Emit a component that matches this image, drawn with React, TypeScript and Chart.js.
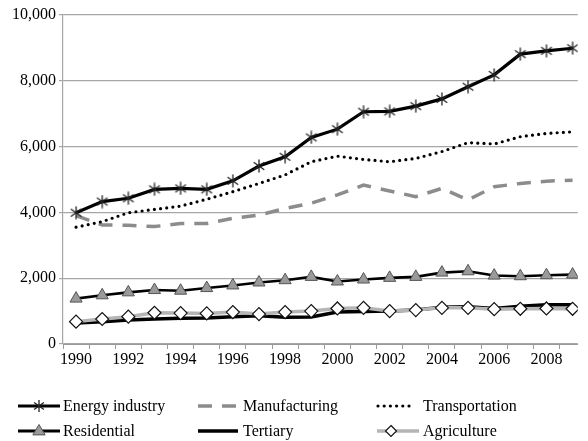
import React, { useEffect, useRef } from 'react';
import { Chart, registerables } from 'chart.js';
Chart.register(...registerables);

const years = [1990, 1991, 1992, 1993, 1994, 1995, 1996, 1997, 1998, 1999, 2000, 2001, 2002, 2003, 2004, 2005, 2006, 2007, 2008, 2009];
const energyIndustry = [3990, 4330, 4430, 4700, 4730, 4700, 4960, 5410, 5690, 6280, 6530, 7060, 7070, 7230, 7450, 7820, 8180, 8810, 8910, 8990];
const manufacturing = [3900, 3620, 3610, 3570, 3660, 3660, 3820, 3920, 4120, 4280, 4530, 4830, 4650, 4480, 4730, 4380, 4780, 4880, 4950, 4980];
const transportation = [3550, 3720, 3990, 4090, 4190, 4400, 4630, 4880, 5140, 5540, 5710, 5610, 5540, 5640, 5850, 6120, 6080, 6300, 6400, 6450];
const residential = [1380, 1480, 1570, 1640, 1620, 1700, 1780, 1870, 1940, 2040, 1900, 1960, 2010, 2040, 2170, 2210, 2080, 2060, 2090, 2110];
const tertiary = [640, 680, 730, 760, 780, 790, 830, 860, 810, 820, 970, 990, 1000, 1030, 1120, 1130, 1080, 1150, 1190, 1190];
const agriculture = [680, 760, 830, 950, 940, 930, 970, 910, 970, 1000, 1080, 1100, 1000, 1030, 1100, 1100, 1060, 1070, 1080, 1070];
const xLabelYears = [1990, 1992, 1994, 1996, 1998, 2000, 2002, 2004, 2006, 2008];
const yTickValues = [0, 2000, 4000, 6000, 8000, 10000];
const legendLabels = ['Energy industry', 'Manufacturing', 'Transportation', 'Residential', 'Tertiary', 'Agriculture'];

const FONT = '"Liberation Serif", "Times New Roman", serif';

function drawAsterisk(ctx: CanvasRenderingContext2D, x: number, y: number, r: number) {
  ctx.save();
  ctx.strokeStyle = '#222';
  ctx.lineWidth = 1.3;
  ctx.beginPath();
  const angles = [90, 35, 145];
  for (const a of angles) {
    const rad = (a * Math.PI) / 180;
    const dx = Math.cos(rad) * r;
    const dy = Math.sin(rad) * r;
    ctx.moveTo(x - dx, y - dy);
    ctx.lineTo(x + dx, y + dy);
  }
  ctx.stroke();
  ctx.restore();
}

function makeAsteriskCanvas(): HTMLCanvasElement {
  const c = document.createElement('canvas');
  c.width = 14;
  c.height = 14;
  const ctx = c.getContext('2d')!;
  drawAsterisk(ctx, 7, 7, 6.5);
  return c;
}

function drawTriangle(ctx: CanvasRenderingContext2D, x: number, y: number, r: number) {
  ctx.save();
  ctx.fillStyle = '#9a9a9a';
  ctx.strokeStyle = '#555';
  ctx.lineWidth = 1;
  ctx.beginPath();
  ctx.moveTo(x, y - r);
  ctx.lineTo(x + r * 0.95, y + r * 0.6);
  ctx.lineTo(x - r * 0.95, y + r * 0.6);
  ctx.closePath();
  ctx.fill();
  ctx.stroke();
  ctx.restore();
}

function drawDiamond(ctx: CanvasRenderingContext2D, x: number, y: number, r: number) {
  ctx.save();
  ctx.fillStyle = '#fff';
  ctx.strokeStyle = '#111';
  ctx.lineWidth = 1.2;
  ctx.beginPath();
  ctx.moveTo(x, y - r);
  ctx.lineTo(x + r, y);
  ctx.lineTo(x, y + r);
  ctx.lineTo(x - r, y);
  ctx.closePath();
  ctx.fill();
  ctx.stroke();
  ctx.restore();
}

const legendPlugin = {
  id: 'customLegend',
  afterDraw(chart: any) {
    const ctx: CanvasRenderingContext2D = chart.ctx;
    const cols = [18, 198, 377];
    const rows = [406, 431];
    const lineW = 42;
    ctx.save();
    ctx.font = '16px ' + FONT;
    ctx.fillStyle = '#000';
    ctx.textBaseline = 'middle';
    legendLabels.forEach((label, i) => {
      const cx = cols[i % 3];
      const cy = rows[Math.floor(i / 3)];
      ctx.save();
      ctx.lineCap = 'butt';
      if (i === 0) {
        ctx.strokeStyle = '#000'; ctx.lineWidth = 3;
        ctx.beginPath(); ctx.moveTo(cx, cy); ctx.lineTo(cx + lineW, cy); ctx.stroke();
        drawAsterisk(ctx, cx + 21, cy, 6);
      } else if (i === 1) {
        ctx.strokeStyle = '#8c8c8c'; ctx.lineWidth = 3.5;
        ctx.setLineDash([14, 10]);
        ctx.beginPath(); ctx.moveTo(cx, cy); ctx.lineTo(cx + 40, cy); ctx.stroke();
      } else if (i === 2) {
        ctx.strokeStyle = '#000'; ctx.lineWidth = 3.2; ctx.lineCap = 'round';
        ctx.setLineDash([0, 6.2]);
        ctx.beginPath(); ctx.moveTo(cx + 1, cy); ctx.lineTo(cx + 38, cy); ctx.stroke();
      } else if (i === 3) {
        ctx.strokeStyle = '#000'; ctx.lineWidth = 3;
        ctx.beginPath(); ctx.moveTo(cx, cy); ctx.lineTo(cx + lineW, cy); ctx.stroke();
        drawTriangle(ctx, cx + 21, cy, 6.5);
      } else if (i === 4) {
        ctx.strokeStyle = '#000'; ctx.lineWidth = 3.5;
        ctx.beginPath(); ctx.moveTo(cx, cy); ctx.lineTo(cx + 40, cy); ctx.stroke();
      } else {
        ctx.strokeStyle = '#b5b5b5'; ctx.lineWidth = 3.5;
        ctx.beginPath(); ctx.moveTo(cx, cy); ctx.lineTo(cx + 42, cy); ctx.stroke();
        drawDiamond(ctx, cx + 14, cy, 5.5);
      }
      ctx.restore();
      const tx = i % 3 === 0 ? cx + 45 : i % 3 === 1 ? cx + 45 : cx + 46;
      ctx.fillText(label, tx, cy + 1);
    });
    ctx.restore();
  },
};

function pts(vals: number[]) {
  return years.map((y, i) => ({ x: y, y: vals[i] }));
}

export default function App() {
  const ref = useRef<HTMLCanvasElement | null>(null);
  useEffect(() => {
    document.body.style.margin = '0';
    const asterisk = makeAsteriskCanvas();
    const chart = new Chart(ref.current!, {
      type: 'line',
      data: {
        datasets: [
          {
            label: legendLabels[0], data: pts(energyIndustry), borderColor: '#000', borderWidth: 3.2,
            pointStyle: asterisk as any, pointRadius: 7, order: 0, tension: 0,
          },
          {
            label: legendLabels[1], data: pts(manufacturing), borderColor: '#8c8c8c', borderWidth: 3.5,
            borderDash: [14, 10], pointRadius: 0, order: 2,
          },
          {
            label: legendLabels[2], data: pts(transportation), borderColor: '#000', borderWidth: 3.2,
            borderDash: [0, 6.2], borderCapStyle: 'round', pointRadius: 0, order: 1,
          },
          {
            label: legendLabels[3], data: pts(residential), borderColor: '#000', borderWidth: 2.6,
            pointStyle: 'triangle', pointRadius: 7, pointBackgroundColor: '#9a9a9a', pointBorderColor: '#555',
            pointBorderWidth: 1, order: 3,
          },
          {
            label: legendLabels[4], data: pts(tertiary), borderColor: '#000', borderWidth: 3.5,
            pointRadius: 0, order: 5,
          },
          {
            label: legendLabels[5], data: pts(agriculture), borderColor: '#b5b5b5', borderWidth: 3.5,
            pointStyle: 'rectRot', pointRadius: 6.5, pointBackgroundColor: '#fff', pointBorderColor: '#111',
            pointBorderWidth: 1.2, order: 4,
          },
        ] as any,
      },
      options: {
        responsive: false,
        animation: false,
        events: [],
        layout: { padding: { top: 15, right: 8, bottom: 67, left: 0 } },
        plugins: { legend: { display: false }, tooltip: { enabled: false } },
        scales: {
          x: {
            type: 'linear',
            min: 1989.5,
            max: 2009.2,
            afterBuildTicks: (s: any) => {
              const t: any[] = [];
              for (let v = 1989.5; v <= 2009.2; v += 0.5) t.push({ value: v });
              s.ticks = t;
            },
            afterFit: (s: any) => { s.height = 30; },
            ticks: {
              autoSkip: false,
              maxRotation: 0,
              minRotation: 0,
              padding: 1,
              color: '#000',
              font: { family: FONT, size: 16 },
              callback: (v: any) => (xLabelYears.includes(Number(v)) ? String(v) : ''),
            },
            grid: {
              drawOnChartArea: false,
              tickLength: 5,
              color: (c: any) => (c.tick && Math.abs((c.tick.value % 1) - 0.5) < 1e-6 ? '#9a9a9a' : 'rgba(0,0,0,0)'),
            },
            border: { color: '#9a9a9a', width: 1 },
          },
          y: {
            min: 0,
            max: 10000,
            afterBuildTicks: (s: any) => { s.ticks = yTickValues.map((v) => ({ value: v })); },
            afterFit: (s: any) => { s.width = 63; },
            ticks: {
              color: '#000',
              padding: 3,
              font: { family: FONT, size: 16 },
              callback: (v: any) => Number(v).toLocaleString('en-US'),
            },
            grid: { color: '#a6a6a6', tickLength: 4, lineWidth: 1.2 },
            border: { color: '#a6a6a6', width: 1.2 },
          },
        },
      } as any,
      plugins: [legendPlugin],
    });
    return () => chart.destroy();
  }, []);
  return <canvas ref={ref} width={588} height={441} style={{ display: 'block' }} />;
}
